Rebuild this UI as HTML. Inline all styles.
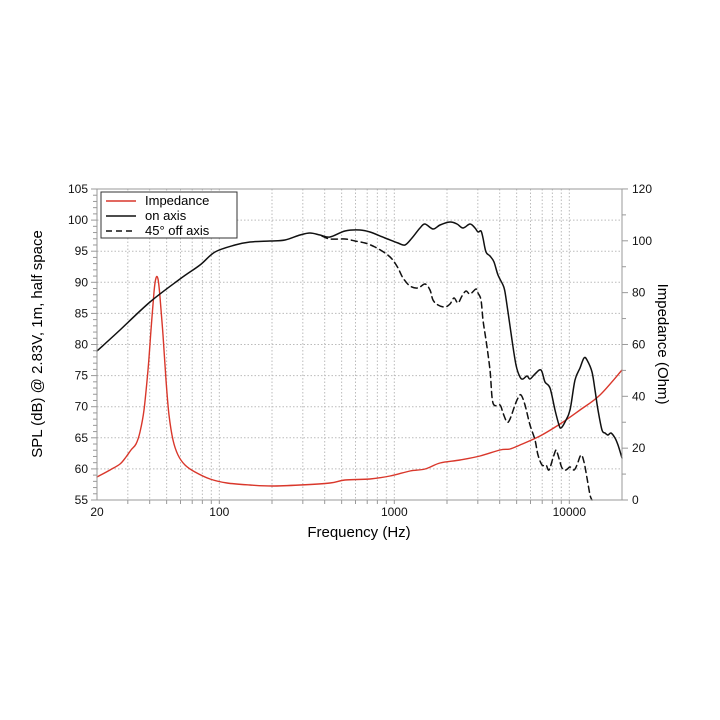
<!DOCTYPE html>
<html><head><meta charset="utf-8"><style>
html,body{margin:0;padding:0;background:#fff;}
svg{display:block;font-family:"Liberation Sans",Arial,sans-serif;}
</style></head><body>
<svg id="s" width="720" height="720" viewBox="0 0 720 720" xmlns="http://www.w3.org/2000/svg">
<rect width="720" height="720" fill="#fff"/>
<g id="grid"></g>
<g id="ticks" stroke="#999" stroke-width="1"></g>
<g id="labels" font-size="12" fill="#111"></g>
<g id="curves" fill="none" stroke-linejoin="round" stroke-linecap="round"></g>
<rect x="97" y="189" width="525" height="311" fill="none" stroke="#999" stroke-width="1"/>
<rect x="101" y="192" width="136" height="46" fill="#fff" stroke="#333" stroke-width="1"/>
<line x1="106" y1="201" x2="136" y2="201" stroke="#d9372b" stroke-width="1.4"/>
<line x1="106" y1="216" x2="136" y2="216" stroke="#111" stroke-width="1.5"/>
<line x1="106" y1="231" x2="136" y2="231" stroke="#111" stroke-width="1.5" stroke-dasharray="6,4"/>
<text x="145" y="205" font-size="13">Impedance</text>
<text x="145" y="220" font-size="13">on axis</text>
<text x="145" y="235" font-size="13">45° off axis</text>
<text x="359" y="537" font-size="15" text-anchor="middle">Frequency (Hz)</text>
<text transform="translate(42,344) rotate(-90)" font-size="15" text-anchor="middle">SPL (dB) @ 2.83V, 1m, half space</text>
<text transform="translate(658,344) rotate(90)" font-size="15" text-anchor="middle">Impedance (Ohm)</text>
</svg>
<script>
var NS="http://www.w3.org/2000/svg";
function el(p,t,a,txt){var e=document.createElementNS(NS,t);for(var k in a)e.setAttribute(k,a[k]);if(txt!==undefined)e.textContent=txt;document.getElementById(p).appendChild(e);return e;}
function X(f){return 97+175*(Math.log10(f)-Math.log10(20));}
var fs=[];
for(var d=10;d<=10000;d*=10)for(var m=1;m<=9;m++){var f=d*m;if(f>20&&f<20000)fs.push(f);}
fs.forEach(function(f){var x=X(f);el("grid","line",{x1:x,y1:189,x2:x,y2:500,stroke:"#bbb","stroke-width":1,"stroke-dasharray":"1.5,2"});el("ticks","line",{x1:x,y1:500,x2:x,y2:504});});
for(var v=60;v<=100;v+=5){var y=500-(v-55)*6.22;el("grid","line",{x1:97,y1:y,x2:622,y2:y,stroke:"#bbb","stroke-width":1,"stroke-dasharray":"1.5,2"});}
for(var v=55;v<=105;v++){var y=500-(v-55)*6.22;el("ticks","line",{x1:v%5?93:91,y1:y,x2:97,y2:y});}
for(var v=55;v<=105;v+=5){var y=500-(v-55)*6.22;el("labels","text",{x:88,y:y+4,"text-anchor":"end"},v);}
for(var v=0;v<=120;v+=10){var y=500-v*2.592;el("ticks","line",{x1:622,y1:y,x2:v%20?626:628,y2:y});if(v%20==0)el("labels","text",{x:632,y:y+4},v);}
[[20,"20"],[100,"100"],[1000,"1000"],[10000,"10000"]].forEach(function(a){el("labels","text",{x:X(a[0]),y:516,"text-anchor":"middle"},a[1]);});
function smooth(s){var a=s.trim().split(/\s+/).map(function(p){return p.split(",").map(Number);});
var d="M"+a[0][0]+","+a[0][1];
for(var i=0;i<a.length-1;i++){var p0=a[i-1]||a[i],p1=a[i],p2=a[i+1],p3=a[i+2]||p2;
var c1x=p1[0]+(p2[0]-p0[0])/6,c1y=p1[1]+(p2[1]-p0[1])/6,c2x=p2[0]-(p3[0]-p1[0])/6,c2y=p2[1]-(p3[1]-p1[1])/6;
d+=" C"+c1x.toFixed(1)+","+c1y.toFixed(1)+" "+c2x.toFixed(1)+","+c2y.toFixed(1)+" "+p2[0]+","+p2[1];}
return d;}
var red="97,477 110,470 120,464 126,457 131,450 136,444 140,432 144,410 148,370 151,330 154,292 156,278 158,279 160,297 163,335 166,380 169,415 173,440 178,455 185,465 195,472 210,479 227,483 250,485 272,486 300,485 330,483 345,480 370,479 390,476 410,471 425,469 440,463 460,460 480,456 500,450 510,449 520,445 540,436 560,424 580,410 600,395 622,370";
var on="97,351 120,330 150,302 180,279 200,265 215,252 235,245 250,242 270,241 285,240 300,235 310,233 320,235 330,237 345,231 360,230 370,232 385,238 398,243 405,245 412,238 420,228 425,224 433,229 440,225 450,222 457,224 463,228 470,224 475,228 478,232 481,231 483,238 486,252 490,256 494,262 498,275 503,285 505,292 508,312 512,340 516,365 520,377 523,379 527,376 530,379 535,374 541,370 545,382 550,388 555,410 559,425 561,428 565,422 570,410 575,380 580,368 584,358 587,360 592,372 595,390 598,410 602,430 605,433 608,435 611,433 615,438 618,445 622,458";
var off="322,236 330,239 345,239 355,241 365,243 375,247 385,253 392,259 398,268 403,278 410,286 418,288 425,284 430,290 433,300 438,305 445,307 450,304 454,298 458,303 462,296 466,291 470,294 476,289 478,293 481,300 483,320 486,340 490,370 493,403 500,405 503,413 507,422 510,419 515,405 518,398 521,395 525,405 530,425 535,440 538,455 542,465 546,465 549,470 553,458 556,450 558,455 562,468 566,470 570,467 574,470 577,465 581,455 584,462 587,478 590,495 592,500";
el("curves","path",{d:smooth(red),stroke:"#d9372b","stroke-width":1.4});
el("curves","path",{d:smooth(on),stroke:"#111","stroke-width":1.5});
el("curves","path",{d:smooth(off),stroke:"#111","stroke-width":1.5,"stroke-dasharray":"6,4"});
</script>
</body></html>
